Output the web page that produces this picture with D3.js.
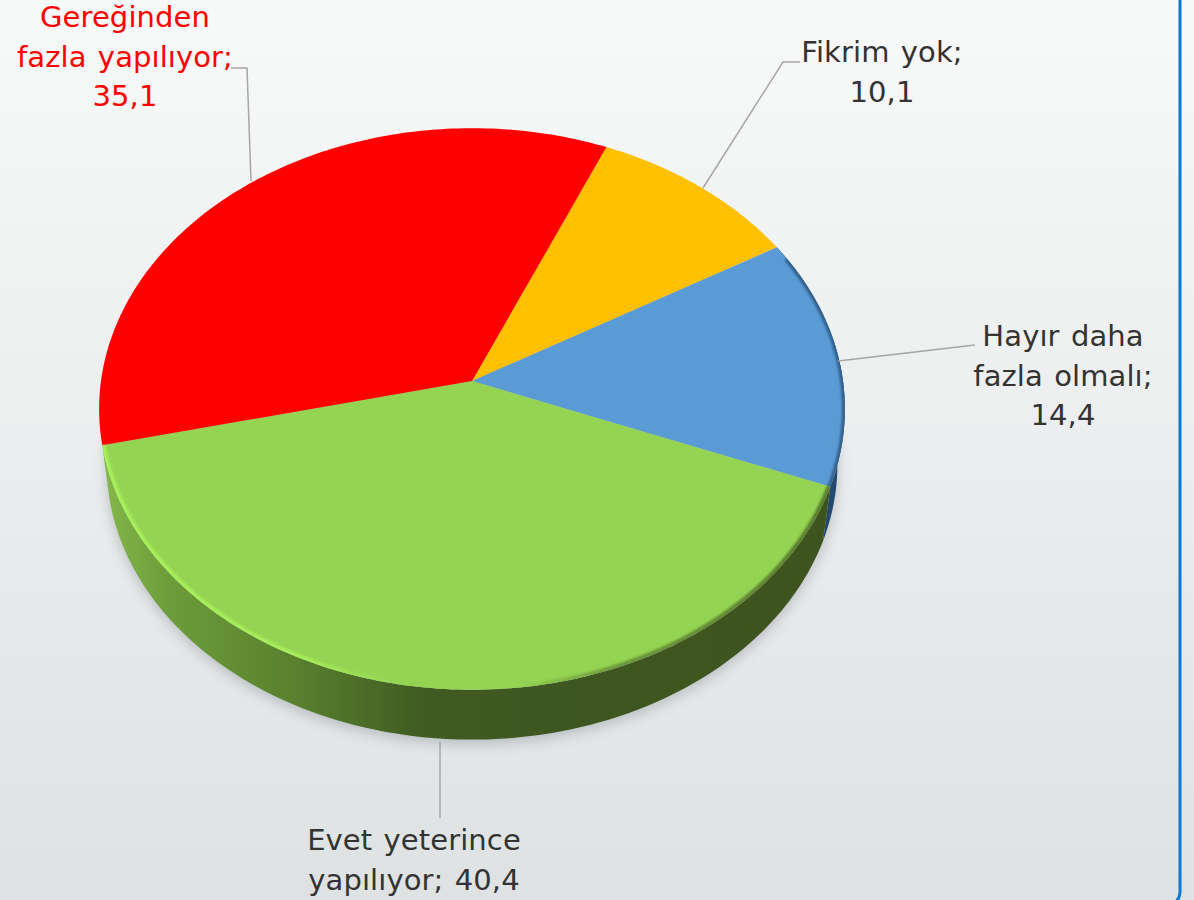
<!DOCTYPE html>
<html>
<head>
<meta charset="utf-8">
<script src="https://cdn.jsdelivr.net/npm/d3@7.9.0/dist/d3.min.js"></script>
<style>
  html, body { margin: 0; padding: 0; background: #eef0f0; }
  svg { display: block; }
  text { font-family: "DejaVu Sans", sans-serif; font-size: 29px; letter-spacing: 0.1px; word-spacing: 2px; text-anchor: middle; }
</style>
</head>
<body>
<svg id="chart" width="1194" height="900"></svg>
<script>
const categories = ['Fikrim yok', 'Hayır daha fazla olmalı', 'Evet yeterince yapılıyor', 'Gereğinden fazla yapılıyor'];
const values = [10.1, 14.4, 40.4, 35.1];
const sliceColors = ['#ffc000', '#5b9bd5', '#95d453', '#ff0000'];

const width = 1194;
const height = 900;
const startDeg = 23.3;
const persp = 0.0997;   // perspective of the tilted disc
const depth = 56;
const lowerScale = 0.98;

const svg = d3.select('#chart');
const defs = svg.append('defs');

const bg = defs.append('linearGradient').attr('id', 'bg').attr('x1', 0).attr('x2', 0).attr('y1', 0).attr('y2', 1);
bg.append('stop').attr('offset', 0).attr('stop-color', '#f8f9f9');
bg.append('stop').attr('offset', 1).attr('stop-color', '#dee2e3');

function xGradient(id, stops) {
  const g = defs.append('linearGradient').attr('id', id)
    .attr('gradientUnits', 'userSpaceOnUse')
    .attr('x1', 100).attr('x2', 845).attr('y1', 0).attr('y2', 0);
  stops.forEach(([x, c, o]) => g.append('stop')
    .attr('offset', (x - 100) / 745)
    .attr('stop-color', c)
    .attr('stop-opacity', o === undefined ? 1 : o));
}
xGradient('wallGreen', [[100, '#86b84c'], [170, '#6d9c3a'], [300, '#587f2e'], [420, '#405c22'], [560, '#3e5620'], [845, '#3e5420']]);
xGradient('bevel', [[100, '#a8f05c', 1], [300, '#a6ee5a', 1], [400, '#a6ee5a', 0], [520, '#3e5620', 0], [620, '#3e5620', 0.5], [845, '#3e5620', 0.7]]);

defs.append('filter').attr('id', 'soft').attr('x', '-10%').attr('y', '-10%').attr('width', '120%').attr('height', '120%')
  .append('feGaussianBlur').attr('stdDeviation', 7);
defs.append('filter').attr('id', 'bevelBlur').attr('x', '-10%').attr('y', '-10%').attr('width', '120%').attr('height', '120%')
  .append('feGaussianBlur').attr('stdDeviation', 1);

// background panel with the blue border, cut off by the page on three sides
svg.append('rect').attr('width', width).attr('height', height).attr('fill', 'url(#bg)');
svg.append('rect')
  .attr('x', -30).attr('y', -30).attr('width', 1210).attr('height', 936).attr('rx', 14)
  .attr('fill', 'none').attr('stroke', '#0b78d1').attr('stroke-width', 3);

// disc coordinates (-1..1) to pixels
const xScale = d3.scaleLinear().domain([-1, 1]).range([472 - 371, 472 + 371]);
const yScale = d3.scaleLinear().domain([-1, 1]).range([381 - 278, 381 + 278]);

function project(a, r = 1, lower = false) {
  const u = r * Math.sin(a);
  const v = -r * Math.cos(a);
  const w = 1 - persp * v;
  const k = lower ? lowerScale : 1;
  return [xScale(k * u / w), yScale(k * v / w) + (lower ? depth : 0)];
}

function rim(a0, a1, lower = false) {
  const n = Math.max(2, Math.ceil(Math.abs(a1 - a0) * 60));
  return d3.range(n + 1).map(i => project(a0 + (a1 - a0) * i / n, 1, lower));
}

const line = d3.line();
const start = startDeg * Math.PI / 180;
const pie = d3.pie().sort(null).startAngle(start).endAngle(start + 2 * Math.PI);
const slices = pie(values);

// soft shadow round the side wall
svg.append('path')
  .attr('d', line(rim(0, 2 * Math.PI, true)) + 'Z')
  .attr('transform', 'translate(0,4)')
  .attr('fill', '#6f787e').attr('opacity', 0.4).attr('filter', 'url(#soft)');

// side wall: only the blue and green slices face the viewer
const wallFill = { 1: '#24496f', 2: 'url(#wallGreen)' };
[1, 2].forEach(i => {
  const s = slices[i];
  svg.append('path')
    .attr('d', line([...rim(s.startAngle, s.endAngle), ...rim(s.endAngle, s.startAngle, true)]) + 'Z')
    .attr('fill', wallFill[i]);
});

// top face
const discPath = line(rim(0, 2 * Math.PI)) + 'Z';
defs.append('clipPath').attr('id', 'discClip').append('path').attr('d', discPath);

svg.append('g').selectAll('path').data(slices).join('path')
  .attr('d', d => line([[xScale(0), yScale(0)], ...rim(d.startAngle, d.endAngle)]) + 'Z')
  .attr('fill', (d, i) => sliceColors[i]);

// bevel along the front rim
const front = svg.append('g').attr('clip-path', 'url(#discClip)');
front.append('path')
  .attr('d', line(rim(slices[2].startAngle, slices[2].endAngle)))
  .attr('fill', 'none').attr('stroke', 'url(#bevel)').attr('stroke-width', 7).attr('filter', 'url(#bevelBlur)');
front.append('path')
  .attr('d', line(rim(slices[1].startAngle + 0.05, slices[1].endAngle)))
  .attr('fill', 'none').attr('stroke', '#24486e').attr('stroke-width', 6).attr('opacity', 0.7).attr('filter', 'url(#bevelBlur)');

// leader lines and labels
const leaders = [
  [[800, 62], [783, 62], [703, 188]],
  [[975, 345], [838, 361]],
  [[440, 742], [440, 818]],
  [[231, 68], [247, 68], [251, 181]]
];
const labelLines = [
  ['Fikrim yok;', '10,1'],
  ['Hayır daha', 'fazla olmalı;', '14,4'],
  ['Evet yeterince', 'yapılıyor; 40,4'],
  ['Gereğinden', 'fazla yapılıyor;', '35,1']
];
const labelAt = [[882, 62], [1063, 346], [414, 850], [125, 27]];
const lineStep = 39.5;

svg.append('g').selectAll('path').data(leaders).join('path')
  .attr('d', d => line(d))
  .attr('fill', 'none').attr('stroke', '#a6a6a6').attr('stroke-width', 1.5);

labelLines.forEach((lines, i) => {
  const t = svg.append('text')
    .attr('fill', i === 3 ? '#ff0000' : '#333333');
  lines.forEach((l, j) => t.append('tspan')
    .attr('x', labelAt[i][0])
    .attr('y', labelAt[i][1] + j * lineStep)
    .text(l));
});
</script>
</body>
</html>
